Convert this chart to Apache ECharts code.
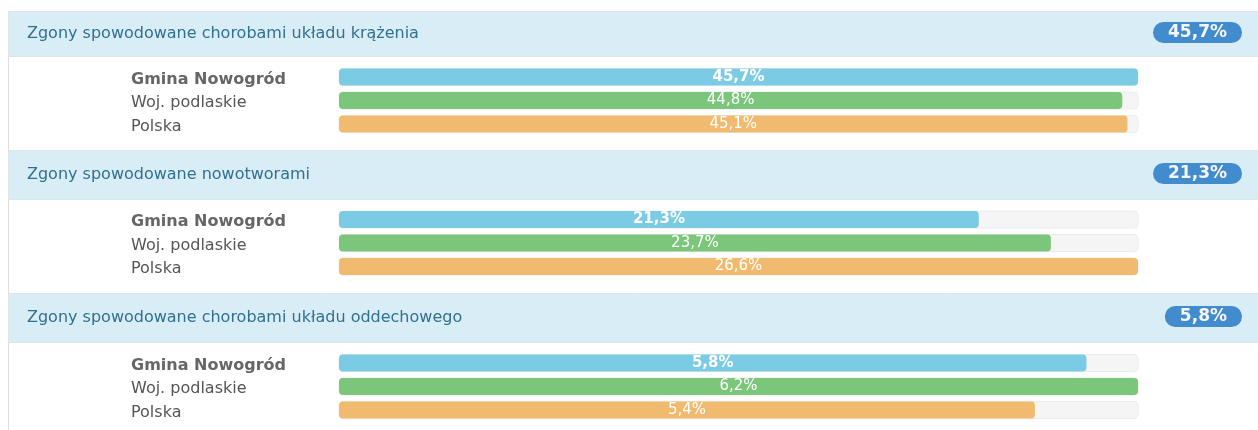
<!DOCTYPE html>
<html>
<head>
<meta charset="utf-8">
<script src="https://cdn.jsdelivr.net/npm/echarts@6/dist/echarts.min.js"></script>
<style>
  html, body { margin: 0; padding: 0; background: #fff; }
  #main { width: 1258px; height: 430px; }
</style>
</head>
<body>
<div id="main"></div>
<script>
// dane
var groupTitles = [
  'Zgony spowodowane chorobami układu krążenia',
  'Zgony spowodowane nowotworami',
  'Zgony spowodowane chorobami układu oddechowego'
];
var rowNames = ['Gmina Nowogród', 'Woj. podlaskie', 'Polska'];
var gminaValues = [45.7, 21.3, 5.8];
var wojValues = [44.8, 23.7, 6.2];
var polskaValues = [45.1, 26.6, 5.4];
var barColors = ['#7ccbe4', '#7cc67b', '#f1bb6f'];

// układ
var bandTop = [11, 150, 293];
var bandBottom = [56, 199, 342];
var gridTop = [65.25, 207.75, 351.25];
var font = 'DejaVu Sans';

function fmt(v) {
  return String(v).replace('.', ',') + '%';
}

var chart = echarts.init(document.getElementById('main'));

var grids = [], xAxes = [], yAxes = [], series = [], graphics = [];

// lewa krawędź panelu
graphics.push({
  type: 'line', z: 1,
  shape: { x1: 8.5, y1: bandTop[0], x2: 8.5, y2: 430 },
  style: { stroke: '#dddddd', lineWidth: 1 }
});

for (var g = 0; g < 3; g++) {
  var vals = [gminaValues[g], wojValues[g], polskaValues[g]];
  var maxV = Math.max.apply(null, vals);

  grids.push({ left: 339, right: 120, top: gridTop[g], height: 70.5 });
  xAxes.push({
    type: 'value', gridIndex: g, min: 0, max: maxV, show: false
  });
  yAxes.push({
    type: 'category', gridIndex: g, inverse: true, data: rowNames,
    axisLine: { show: false }, axisTick: { show: false },
    axisLabel: {
      align: 'left', margin: 208, fontFamily: font, fontSize: 16, color: '#555',
      padding: [5, 0, 0, 0],
      formatter: function (v, i) { return i === 0 ? '{b|' + v + '}' : v; },
      rich: { b: { fontFamily: font, fontSize: 16, fontWeight: 'bold', color: '#666' } }
    }
  });
  series.push({
    type: 'bar', xAxisIndex: g, yAxisIndex: g, barWidth: 17,
    showBackground: true,
    backgroundStyle: { color: '#f5f5f5', borderColor: '#ececec', borderWidth: 1, borderRadius: 4 },
    data: vals.map(function (v, i) {
      return {
        value: v,
        itemStyle: { color: barColors[i], borderRadius: 4 },
        label: { fontWeight: i === 0 ? 'bold' : 'normal' }
      };
    }),
    label: {
      show: true, position: 'inside', fontFamily: font, fontSize: 15, color: '#fff',
      formatter: function (p) { return fmt(p.value); }
    }
  });

  // nagłówek
  graphics.push({
    type: 'rect', z: 1,
    shape: { x: 8.5, y: bandTop[g] + 0.5, width: 1260, height: bandBottom[g] - bandTop[g] },
    style: { fill: '#d9edf7', stroke: '#e0e4e6', lineWidth: 1 }
  });
  graphics.push({
    type: 'text', z: 2,
    x: 27, y: (bandTop[g] + bandBottom[g]) / 2,
    style: {
      text: groupTitles[g], fontFamily: font, fontSize: 16, fill: '#31708f',
      verticalAlign: 'middle', align: 'left'
    }
  });
  graphics.push({
    type: 'text', z: 2,
    x: 1242, y: (bandTop[g] + bandBottom[g]) / 2 - 1,
    style: {
      text: fmt(gminaValues[g]), fontFamily: font, fontSize: 17, fontWeight: 'bold',
      fill: '#f4f6fa', align: 'right', verticalAlign: 'middle',
      backgroundColor: '#428bcc', borderRadius: 11, padding: [2, 15, 2, 15]
    }
  });
}

chart.setOption({
  animation: false,
  grid: grids,
  xAxis: xAxes,
  yAxis: yAxes,
  series: series,
  graphic: graphics
});
</script>
</body>
</html>
